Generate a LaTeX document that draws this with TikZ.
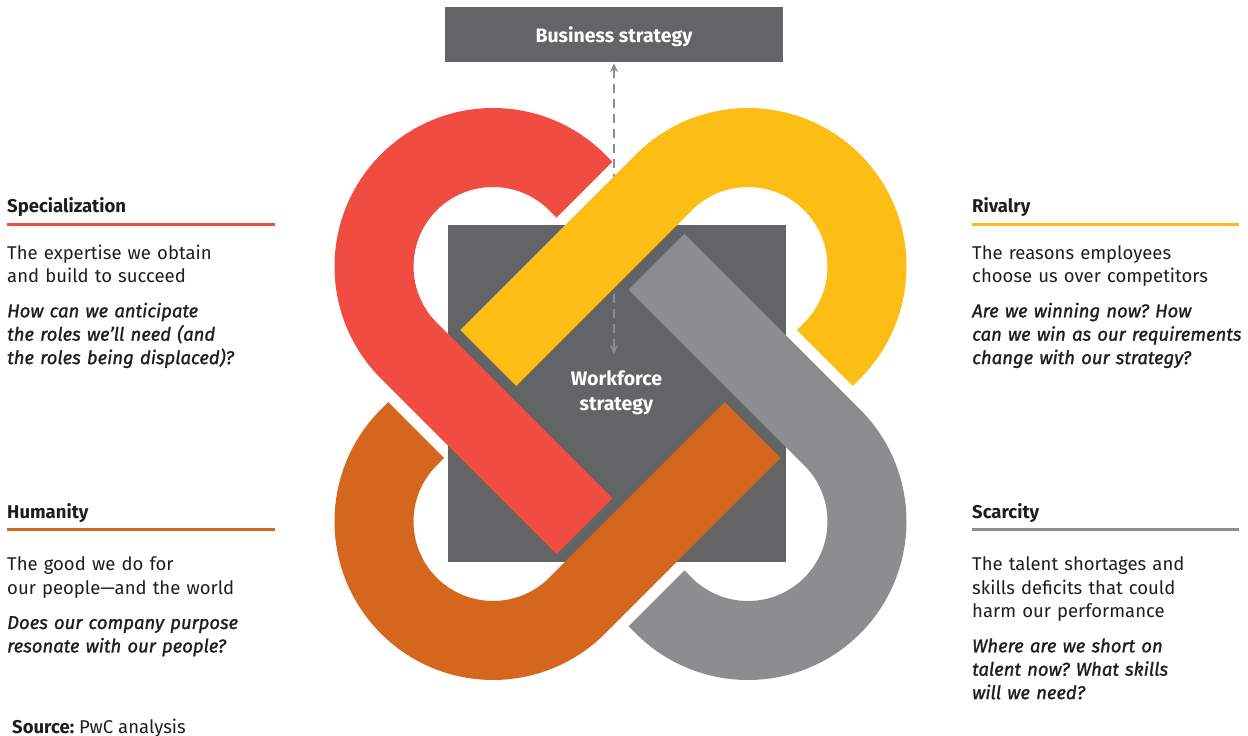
\documentclass[tikz,border=0pt]{standalone}
\usepackage{fontspec}
\setmainfont{Fira Sans}
\newfontfamily\qfont{Fira Sans}[FakeBold=1.3]
\usetikzlibrary{arrows.meta}
\definecolor{kred}{HTML}{F04C41}
\definecolor{kyellow}{HTML}{FCBE14}
\definecolor{korange}{HTML}{D5661E}
\definecolor{kgray}{HTML}{8C8D8F}
\definecolor{kdark}{HTML}{636466}
\definecolor{kink}{HTML}{1E1E1E}
\newcommand\kfont{\fontsize{18.5pt}{23.4pt}\selectfont}
\frenchspacing
\tikzset{
        band/.style={line width=79pt, line cap=butt},
        panel/.style={fill=kdark, draw=none, inner sep=0pt},
        link/.style={draw=kgray, line width=1.8pt, dash pattern=on 9pt off 6pt, {Stealth[length=9pt,width=8pt]}-{Stealth[length=9pt,width=8pt]}, shorten <=1pt},
        head/.style={anchor=base west, inner sep=0pt, text=kink, font=\kfont\bfseries},
        body/.style={anchor=base west, inner sep=0pt, text=kink, text width=330pt, align=left, font=\kfont},
        ask/.style={body, font=\kfont\qfont\itshape},
        rule/.style={line width=2.6pt},
        wflabel/.style={anchor=base, inner sep=0pt, text=white, text width=140pt, align=center, font=\fontsize{19.5pt}{25pt}\selectfont\bfseries}
}
\begin{document}
\begin{tikzpicture}[x=1pt, y=1pt]
\useasboundingbox (0,0) rectangle (1248,736);
% centre panel and top box
\node[panel, minimum width=338pt, minimum height=337pt] (wfbox) at (617,342.5) {};
\node[panel, minimum width=338pt, minimum height=55pt, text depth=0pt, text=white, font=\fontsize{19.5pt}{22pt}\selectfont\bfseries] (biz) at (614,701.5) {Business strategy};
\coordinate (wfend) at (614,382);
\draw[link] (biz.south -| wfend) -- (wfend);
% the four loops
\begin{scope}[shift={(620.5,342)}]
  \foreach \ang/\col in {0/kred, -90/kyellow, -180/kgray, -270/korange}
    \draw[band, draw=\col, rotate=\ang] (-36.06,204.35) -- (-43.35,211.65)
      arc[start angle=45, end angle=225, radius=119] -- (-36.06,-132.23);
\end{scope}
\node[wflabel] (wf) at (616.5,350) {Workforce\\strategy};
% left column
\node[head] (spec) at (7,523.7) {Specialization};
\draw[rule, kred] (7.3,511.7) -- (275,511.7);
\node[body] (specbody) at (7,476.7) {The expertise we obtain\\and build to succeed};
\node[ask] (specask) at (7,418.7) {How can we anticipate\\the roles we’ll need (and\\the roles being displaced)?};
\node[head] (hum) at (7,217.7) {Humanity};
\draw[rule, korange] (7.3,206.7) -- (275,206.7);
\node[body] (humbody) at (7,165.3) {The good we do for\\our people—and the world};
\node[ask] (humask) at (7,107) {Does our company purpose\\resonate with our people?};
% right column
\node[head] (riv) at (972,523.7) {Rivalry};
\draw[rule, kyellow] (971.7,511.7) -- (1239,511.7);
\node[body] (rivbody) at (972,476.7) {The reasons employees\\choose us over competitors};
\node[ask] (rivask) at (972,418.7) {Are we winning now? How\\can we win as our requirements\\change with our strategy?};
\node[head] (scar) at (972,217.7) {Scarcity};
\draw[rule, kgray] (971.7,206.7) -- (1239,206.7);
\node[body] (scarbody) at (972,165.3) {The talent shortages and\\skills deficits that could\\harm our performance};
\node[ask] (scarask) at (972,83.7) {Where are we short on\\talent now? What skills\\will we need?};
% source
\node[head, font=\kfont] (src) at (12,2.7) {\textbf{Source:} PwC analysis};
\end{tikzpicture}
\end{document}
